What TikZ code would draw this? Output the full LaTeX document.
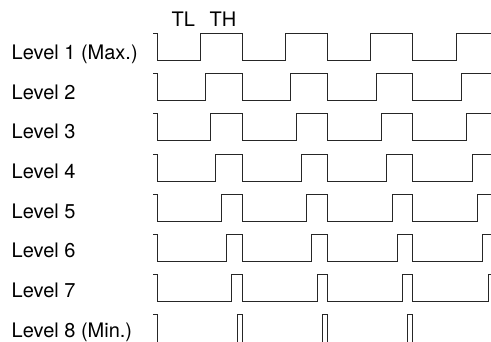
\documentclass[tikz,border=0pt]{standalone}
\usepackage{fontspec}
\setmainfont{TeX Gyre Heros}
\begin{document}
\begin{tikzpicture}[x=1pt,y=-1pt,
  wave/.style={draw=black!85,line width=1pt,line join=miter},
  lbl/.style={anchor=base west,inner sep=0pt,font=\fontsize{20}{24}\selectfont}]
\useasboundingbox (0,0) rectangle (491,341);
\clip (0,0) rectangle (491,341);
\node[lbl] (tl) at (171.5,26) {TL};
\node[lbl] (th) at (209.5,26) {TH};
\foreach \i/\txt in {1/Level 1 (Max.),2/Level 2,3/Level 3,4/Level 4,5/Level 5,6/Level 6,7/Level 7,8/Level 8 (Min.)} {
  \pgfmathsetmacro\t{33.3+40.24*(\i-1)}
  \pgfmathsetmacro\b{\i==8 ? \t+40 : \t+27}
  \pgfmathsetmacro\r{200+5.3*(\i-1)}
  \pgfmathsetmacro\bl{59.3+39.7*(\i-1)}
  \node[lbl] (lab\i) at (11.5,\bl) {\txt};
  \draw[wave] (153,\t) -- (157.3,\t) -- (157.3,\b)
   -- (\r,\b) -- (\r,\t) -- (242,\t) -- (242,\b)
   -- ({\r+85.4},\b) -- ({\r+85.4},\t) -- (327.4,\t) -- (327.4,\b)
   -- ({\r+170.8},\b) -- ({\r+170.8},\t) -- (412.8,\t) -- (412.8,\b)
   -- ({\r+256.2},\b) -- ({\r+256.2},\t) -- (495,\t);
}
\end{tikzpicture}
\end{document}
